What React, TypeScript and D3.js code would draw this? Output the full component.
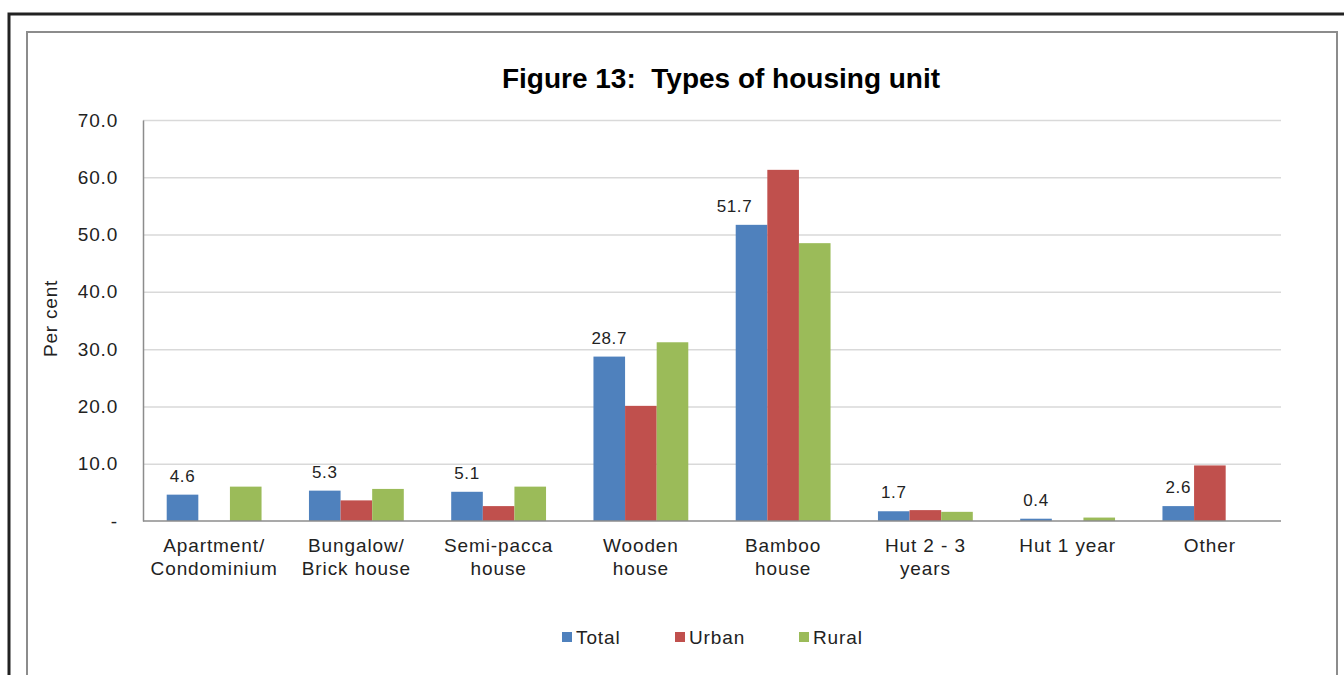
import { useEffect, useRef } from 'react'
import * as d3 from 'd3'

const categories = [
  ['Apartment/', 'Condominium'],
  ['Bungalow/', 'Brick house'],
  ['Semi-pacca', 'house'],
  ['Wooden', 'house'],
  ['Bamboo', 'house'],
  ['Hut 2 - 3', 'years'],
  ['Hut 1 year'],
  ['Other'],
]
const totalValues = [4.6, 5.3, 5.1, 28.7, 51.7, 1.7, 0.4, 2.6]
const urbanValues = [0, 3.6, 2.6, 20.1, 61.3, 1.9, 0, 9.7]
const ruralValues = [6.0, 5.6, 6.0, 31.2, 48.5, 1.6, 0.6, 0]
const yTicks = [0, 10, 20, 30, 40, 50, 60, 70]

const seriesNames = ['Total', 'Urban', 'Rural']
const colors = ['#4F81BD', '#C0504D', '#9BBB59']

// Excel nudged the Bamboo label left of its bar
const labelNudge = [0, 0, 0, 0, -17, 0, 0, 0]

const W = 1344
const H = 675
const FONT = '"Liberation Sans", Arial, sans-serif'

export default function App() {
  const svgRef = useRef<SVGSVGElement>(null)

  useEffect(() => {
    if (!svgRef.current) return
    const svg = d3.select(svgRef.current)
    svg.selectAll('*').remove()

    const margin = { top: 120, right: 63, bottom: 154, left: 143 }
    const innerW = W - margin.left - margin.right
    const innerH = H - margin.top - margin.bottom

    // outer frames
    svg.append('rect').attr('x', 9).attr('y', 14).attr('width', W).attr('height', H)
      .attr('fill', 'none').attr('stroke', '#222').attr('stroke-width', 3)
    svg.append('rect').attr('x', 27).attr('y', 32).attr('width', 1310).attr('height', H)
      .attr('fill', 'none').attr('stroke', '#8c8c8c').attr('stroke-width', 2)

    svg.append('text')
      .attr('x', 721).attr('y', 88)
      .attr('text-anchor', 'middle')
      .attr('font-family', FONT).attr('font-size', 28).attr('font-weight', 'bold')
      .attr('fill', '#000')
      .text('Figure 13:\u00a0 Types of housing unit')

    const g = svg.append('g').attr('transform', `translate(${margin.left},${margin.top})`)

    const idx = categories.map((_, i) => i)
    const x0 = d3.scaleBand<number>().domain(idx).range([0, innerW]).paddingInner(1 / 3).paddingOuter(1 / 6)
    const x1 = d3.scaleBand<number>().domain([0, 1, 2]).range([0, x0.bandwidth()])
    const y = d3.scaleLinear().domain([0, 70]).range([innerH, 0])

    // grid
    g.append('g')
      .call(d3.axisLeft(y).tickValues(yTicks.slice(1)).tickSize(-innerW).tickFormat(() => ''))
      .call(ax => ax.select('.domain').remove())
      .selectAll('line').attr('stroke', '#d9d9d9').attr('stroke-width', 1.5)

    // bars
    const all = [totalValues, urbanValues, ruralValues]
    all.forEach((vals, s) => {
      g.append('g').selectAll('rect')
        .data(vals)
        .join('rect')
        .attr('x', (_, i) => x0(i)! + x1(s)!)
        .attr('y', d => y(d))
        .attr('width', x1.bandwidth())
        .attr('height', d => innerH - y(d))
        .attr('fill', colors[s])
    })

    // data labels (Total only)
    g.append('g').selectAll('text')
      .data(totalValues)
      .join('text')
      .attr('x', (_, i) => x0(i)! + x1(0)! + x1.bandwidth() / 2 + labelNudge[i])
      .attr('y', d => y(d) - 13)
      .attr('text-anchor', 'middle')
      .attr('font-family', FONT).attr('font-size', 17).attr('letter-spacing', 0.6)
      .attr('fill', '#222')
      .text(d => d.toFixed(1))

    // y axis
    g.append('g')
      .call(d3.axisLeft(y).tickValues(yTicks).tickSize(0).tickPadding(25)
        .tickFormat(d => (+d === 0 ? '-' : (+d).toFixed(1))))
      .call(ax => ax.select('.domain').attr('stroke', '#8c8c8c').attr('stroke-width', 1.5))
      .selectAll('text')
      .attr('font-family', FONT).attr('font-size', 19).attr('letter-spacing', 0.8)
      .attr('fill', '#222')

    // baseline
    g.append('line').attr('x1', 0).attr('x2', innerW).attr('y1', innerH).attr('y2', innerH)
      .attr('stroke', '#8c8c8c').attr('stroke-width', 1.5)

    // category labels
    const cat = g.append('g').selectAll('text')
      .data(categories)
      .join('text')
      .attr('x', (_, i) => x0(i)! + x0.bandwidth() / 2)
      .attr('y', innerH + 31)
      .attr('text-anchor', 'middle')
      .attr('font-family', FONT).attr('font-size', 19).attr('letter-spacing', 0.9)
      .attr('fill', '#222')
    cat.each(function (lines) {
      const t = d3.select(this)
      lines.forEach((line, k) => {
        t.append('tspan').attr('x', t.attr('x')).attr('dy', k === 0 ? 0 : 23).text(line)
      })
    })

    // y label
    g.append('text')
      .attr('transform', 'rotate(-90)')
      .attr('x', -innerH / 2 + 2).attr('y', -86)
      .attr('text-anchor', 'middle')
      .attr('font-family', FONT).attr('font-size', 19).attr('letter-spacing', 0.8)
      .attr('fill', '#222')
      .text('Per cent')

    // legend
    const legendX = [562, 675, 799]
    const legend = svg.append('g')
    seriesNames.forEach((name, i) => {
      legend.append('rect').attr('x', legendX[i]).attr('y', 632).attr('width', 10).attr('height', 10).attr('fill', colors[i])
      legend.append('text').attr('x', legendX[i] + 14).attr('y', 644)
        .attr('font-family', FONT).attr('font-size', 19).attr('letter-spacing', 0.9)
        .attr('fill', '#222')
        .text(name)
    })
  }, [])

  return (
    <svg ref={svgRef} width={W} height={H}
      style={{ position: 'absolute', left: 0, top: 0, background: '#fff' }} />
  )
}
